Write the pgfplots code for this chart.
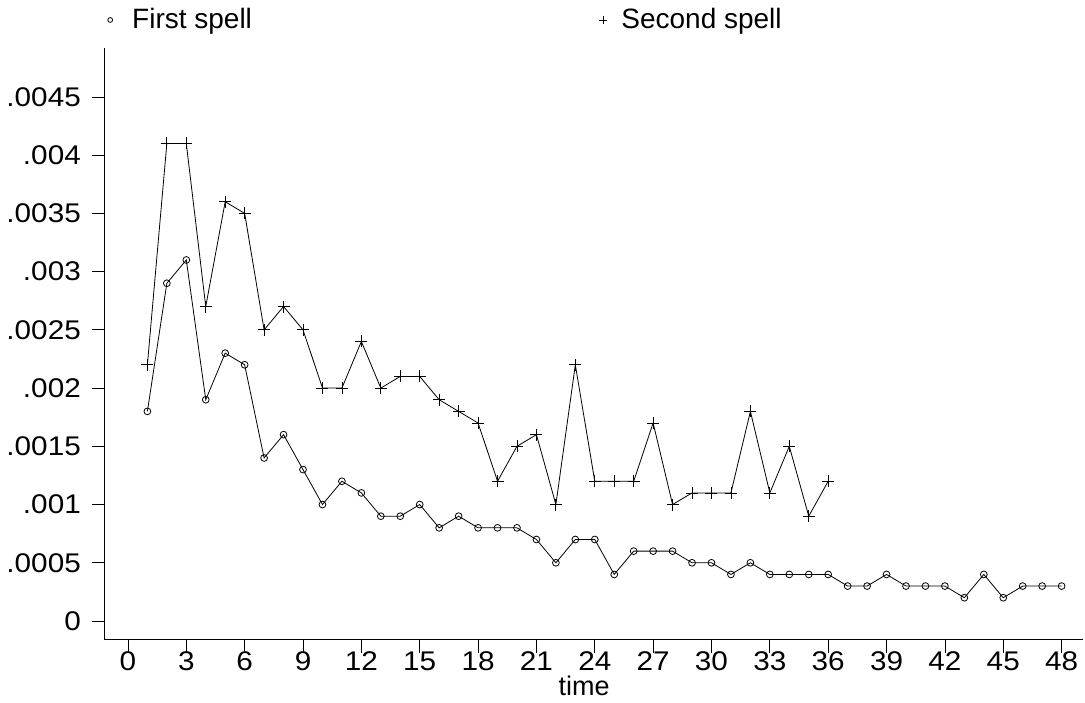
\documentclass[border=0pt]{standalone}
\usepackage{pgfplots}
\pgfplotsset{compat=1.18}
\usepackage{fontspec}
\setmainfont{Liberation Sans}
\newfontfamily\tickfont[FakeStretch=1.1]{Liberation Sans}
\begin{document}
\fontsize{27}{32}\selectfont
\begin{tikzpicture}
\begin{axis}[
  name=main,
  scale only axis,
  width=978pt, height=592pt,
  xmin=-1.18, xmax=49.1,
  ymin=-0.000163, ymax=0.00492,
  axis x line=bottom, axis y line=left,
  axis line style={-, line width=1pt},
  xtick={0,3,...,48},
  ytick={0,0.0005,0.001,0.0015,0.002,0.0025,0.003,0.0035,0.004,0.0045},
  yticklabels={0,.0005,.001,.0015,.002,.0025,.003,.0035,.004,.0045},
  scaled y ticks=false,
  tick align=outside,
  major tick length=13pt,
  tick style={line width=0.8pt, black},
  /pgf/number format/assume math mode=true,
  tick label style={font=\tickfont\fontsize{27}{32}\selectfont},
  yticklabel style={xshift=-2pt},
  xticklabel style={anchor=north, text height=19.3pt, text depth=0pt, yshift=11pt},
  xlabel={time},
  xlabel style={at={(axis description cs:0.49,0)}, anchor=north, inner sep=0pt, yshift=-36pt, font=\fontsize{27}{32}\selectfont},
  legend columns=2,
  legend style={draw=none, at={(axis description cs:0,1)}, anchor=west, yshift=28pt, xshift=-2pt,
     font=\fontsize{28}{32}\selectfont,
     /tikz/every even column/.append style={column sep=345pt}},
  legend cell align=left,
  clip=false,
]
\addplot[black, line width=0.8pt, mark=o, mark size=3.4pt, mark options={line width=0.8pt},
  legend image code/.code={\path[draw=none] (0pt,0pt) -- (24pt,0pt); \draw[black, line width=0.8pt] (4pt,0pt) circle (2.4pt);}] coordinates {
(1,0.0018)(2,0.0029)(3,0.0031)(4,0.0019)(5,0.0023)(6,0.0022)(7,0.0014)(8,0.0016)
(9,0.0013)(10,0.0010)(11,0.0012)(12,0.0011)(13,0.0009)(14,0.0009)(15,0.0010)(16,0.0008)
(17,0.0009)(18,0.0008)(19,0.0008)(20,0.0008)(21,0.0007)(22,0.0005)(23,0.0007)(24,0.0007)
(25,0.0004)(26,0.0006)(27,0.0006)(28,0.0006)(29,0.0005)(30,0.0005)(31,0.0004)(32,0.0005)
(33,0.0004)(34,0.0004)(35,0.0004)(36,0.0004)(37,0.0003)(38,0.0003)(39,0.0004)(40,0.0003)
(41,0.0003)(42,0.0003)(43,0.0002)(44,0.0004)(45,0.0002)(46,0.0003)(47,0.0003)(48,0.0003)
};
\addlegendentry{First spell}
\addplot[black, line width=0.8pt, mark=+, mark size=6pt, mark options={line width=0.8pt},
  legend image code/.code={\path[draw=none] (0pt,0pt) -- (20pt,0pt); \draw[black, line width=0.8pt] (0pt,0pt) -- (8pt,0pt) (4pt,-4pt) -- (4pt,4pt);}] coordinates {
(1,0.0022)(2,0.0041)(3,0.0041)(4,0.0027)(5,0.0036)(6,0.0035)(7,0.0025)(8,0.0027)
(9,0.0025)(10,0.0020)(11,0.0020)(12,0.0024)(13,0.0020)(14,0.0021)(15,0.0021)(16,0.0019)
(17,0.0018)(18,0.0017)(19,0.0012)(20,0.0015)(21,0.0016)(22,0.0010)(23,0.0022)(24,0.0012)
(25,0.0012)(26,0.0012)(27,0.0017)(28,0.0010)(29,0.0011)(30,0.0011)(31,0.0011)(32,0.0018)
(33,0.0011)(34,0.0015)(35,0.0009)(36,0.0012)
};
\addlegendentry{Second spell}
\end{axis}
\pgfresetboundingbox
\path ([shift={(-105pt,-62pt)}]main.south west) rectangle ([shift={(2pt,48pt)}]main.north east);
\end{tikzpicture}
\end{document}
